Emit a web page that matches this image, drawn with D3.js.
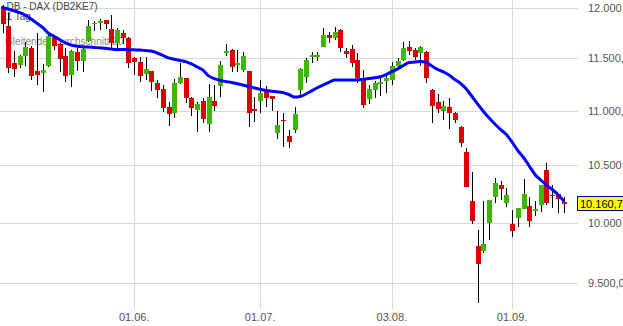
<!DOCTYPE html>
<html><head><meta charset="utf-8">
<script src="https://cdn.jsdelivr.net/npm/d3@7/dist/d3.min.js"></script>
<style>html,body{margin:0;padding:0;background:#fff;overflow:hidden}svg{display:block}</style>
</head><body><svg id="c" width="623" height="326"></svg>
<script>
const dates = ["28.04.","29.04.","30.04.","04.05.","05.05.","06.05.","07.05.","08.05.","11.05.","12.05.","13.05.","14.05.","15.05.","18.05.","19.05.","20.05.","21.05.","22.05.","25.05.","26.05.","27.05.","28.05.","29.05.",
"01.06.","02.06.","03.06.","04.06.","05.06.","08.06.","09.06.","10.06.","11.06.","12.06.","15.06.","16.06.","17.06.","18.06.","19.06.","22.06.","23.06.","24.06.","25.06.","26.06.","29.06.","30.06.",
"01.07.","02.07.","03.07.","06.07.","07.07.","08.07.","09.07.","10.07.","13.07.","14.07.","15.07.","16.07.","17.07.","20.07.","21.07.","22.07.","23.07.","24.07.","27.07.","28.07.","29.07.","30.07.","31.07.",
"03.08.","04.08.","05.08.","06.08.","07.08.","10.08.","11.08.","12.08.","13.08.","14.08.","17.08.","18.08.","19.08.","20.08.","21.08.","24.08.","25.08.","26.08.","27.08.","28.08.","31.08.",
"01.09.","02.09.","03.09.","04.09.","07.09.","08.09.","09.09.","10.09.","11.09.","14.09."];
const open = [12015,11820,11454,11435,11523,11601,11377,11357,11425,11710,
11641,11523,11338,11562,11474,11670,11840,11850,11880,11790,
11650,11750,11700,11506,11467,11348,11377,11264,11204,11031,
10981,11261,11309,11119,11006,11090,10879,11090,11236,11555,
11581,11438,11386,11377,11015,11093,11178,11135,10796,10916,
10766,10821,11195,11322,11516,11516,11614,11730,11697,11780,
11571,11591,11483,11314,11109,11195,11255,11280,11290,11425,
11483,11608,11581,11555,11559,11195,11081,10997,11034,10975,
10846,10618,10188,9806,9764,10002,10225,10327,10173,9991,
10044,10121,10144,10104,10153,10459,10242,10246,10181];
const high = [12032,11951,11571,11532,11660,11621,11750,11445,11730,11720,
11650,11601,11581,11601,11611,11880,11870,11890,11885,11931,
11800,11780,11710,11510,11513,11513,11380,11290,11242,11084,
11296,11457,11312,11128,11084,11116,11252,11242,11477,11641,
11588,11581,11565,11380,11125,11290,11233,11140,10999,10978,
10821,11031,11409,11506,11559,11565,11797,11763,11813,11785,
11598,11631,11555,11386,11242,11283,11306,11331,11467,11500,
11657,11670,11598,11624,11574,11204,11157,11093,11116,10990,
10858,10654,10439,9940,10188,10200,10391,10358,10301,10110,
10130,10378,10222,10185,10330,10522,10327,10250,10225];
const low = [11750,11357,11319,11406,11425,11290,11242,11176,11416,11581,
11367,11271,11223,11377,11367,11660,11770,11780,11790,11601,
11591,11641,11406,11338,11271,11290,11188,11119,10990,10858,
10934,11252,11069,10953,10805,10883,10805,10999,11131,11523,
11370,11370,11370,10851,10897,10981,11037,10999,10735,10663,
10654,10796,11147,11258,11451,11477,11610,11647,11680,11565,
11500,11418,11258,11025,11062,11116,11141,11169,11242,11409,
11477,11532,11483,11425,11264,10888,10975,10913,10828,10883,
10668,10307,9991,9340,9745,9856,10170,10196,10136,9884,
9961,10118,9961,10056,10095,10153,10127,10082,10082];
const close = [11837,11406,11396,11523,11611,11328,11338,11386,11720,11621,
11493,11328,11571,11474,11591,11820,11853,11870,11840,11650,
11780,11700,11454,11467,11331,11396,11274,11195,11028,10972,
11261,11319,11116,11028,11062,10922,11128,11044,11435,11571,
11418,11451,11523,10981,11006,11166,11122,11109,10867,10908,
10711,10969,11396,11483,11535,11535,11730,11697,11760,11604,
11545,11457,11306,11053,11205,11264,11274,11312,11425,11474,
11598,11574,11516,11608,11312,11046,11012,11044,10981,10913,
10699,10312,10019,9655,9822,10196,10347,10292,10240,9934,
10127,10248,10019,10119,10327,10173,10235,10201,10160.75];
const ma20 = [12009,11992,11973,11955,11929,11890,11848,11805,11748,11718,
11683,11653,11629,11619,11613,11611,11607,11603,11599,11591,
11585,11586,11585,11583,11581,11576,11571,11552,11529,11505,
11491,11480,11468,11445,11416,11386,11330,11303,11287,11276,
11267,11254,11242,11228,11214,11201,11190,11183,11178,11170,
11152,11128,11133,11157,11187,11216,11242,11268,11290,11290,
11290,11290,11290,11298,11304,11312,11321,11343,11370,11398,
11430,11459,11464,11469,11459,11425,11391,11369,11338,11295,
11257,11204,11133,11062,10992,10932,10876,10825,10779,10711,
10634,10571,10495,10420,10371,10327,10288,10244,10189];
const yTicks = [9500,10000,10500,11000,11500,12000];
const yTickLabels = ["9.500,00","10.000,00","10.500,00","11.000,00","11.500,00","12.000,00"];
const xTicks = ["01.06.","01.07.","03.08.","01.09."];
const titleLines = ["DB - DAX (DB2KE7)","1 Tag"];
const maLabel = "Gleitender Durchschnitt 20";
const lastLabel = "10.160,75";

const W = 623, H = 326;
const svg = d3.select("#c");
const x = d3.scalePoint().domain(dates).range([2.5, 563.6]).padding(0);
const y = d3.scaleLog().domain([9500, 12000]).range([283.3, 8.2]);
const font = "'Liberation Sans', Arial, sans-serif";

svg.append("rect").attr("width", W).attr("height", H).attr("fill", "#fff");

// gridlines
const grid = svg.append("g").attr("shape-rendering", "crispEdges");
grid.selectAll("line.h").data(yTicks).join("line")
  .attr("x1", 0).attr("x2", 578)
  .attr("y1", d => Math.round(y(d)) + 0.5).attr("y2", d => Math.round(y(d)) + 0.5)
  .attr("stroke", "#d8d8d8").attr("stroke-width", 1);
grid.selectAll("line.v").data(xTicks).join("line")
  .attr("y1", 0).attr("y2", 309)
  .attr("x1", d => Math.round(x(d)) + 0.5).attr("x2", d => Math.round(x(d)) + 0.5)
  .attr("stroke", "#d8d8d8").attr("stroke-width", 1);

// axis labels
svg.selectAll("text.yl").data(yTicks).join("text")
  .attr("x", 588).attr("y", d => y(d)).attr("dy", "0.35em")
  .attr("font-family", font).attr("font-size", 11).attr("fill", "#555")
  .text((d, i) => yTickLabels[i]);
svg.selectAll("text.xl").data(xTicks).join("text")
  .attr("x", d => x(d)).attr("y", 321).attr("text-anchor", "middle")
  .attr("font-family", font).attr("font-size", 11).attr("fill", "#555")
  .text(d => d);

// legend texts (behind marks)
svg.selectAll("text.tl").data(titleLines).join("text")
  .attr("x", 6.5).attr("y", (d, i) => 10 + i * 9.5)
  .attr("font-family", font).attr("font-size", 10).attr("fill", "#444")
  .text(d => d);
svg.append("text").attr("x", 5).attr("y", 44.5)
  .attr("font-family", font).attr("font-size", 10).attr("fill", "#8a8a8a")
  .text(maLabel);

// candles
const idx = d3.range(dates.length);
const cg = svg.append("g").attr("shape-rendering", "crispEdges");
cg.selectAll("line.w").data(idx).join("line")
  .attr("x1", i => Math.round(x(dates[i])) + 0.5).attr("x2", i => Math.round(x(dates[i])) + 0.5)
  .attr("y1", i => y(high[i])).attr("y2", i => y(low[i]))
  .attr("stroke", "#000").attr("stroke-width", 1);
const bw = 5;
cg.selectAll("rect.b").data(idx).join("rect")
  .attr("x", i => Math.round(x(dates[i])) + 0.5 - bw / 2)
  .attr("width", bw)
  .attr("y", i => y(Math.max(open[i], close[i])))
  .attr("height", i => Math.max(1.5, y(Math.min(open[i], close[i])) - y(Math.max(open[i], close[i]))))
  .attr("fill", i => close[i] >= open[i] ? "#3cb800" : "#dd0000");

// moving average
const line = d3.line().x(i => x(dates[i])).y(i => y(ma20[i])).curve(d3.curveMonotoneX);
svg.append("path").datum(idx).attr("d", line)
  .attr("fill", "none").attr("stroke", "#0000ff").attr("stroke-width", 3)
  .attr("stroke-linejoin", "round").attr("stroke-linecap", "round");

// last price label
const ly = y(close[close.length - 1]);
svg.append("rect").attr("x", 577.5).attr("y", Math.round(ly) - 7.5).attr("width", 60).attr("height", 14)
  .attr("fill", "#ffff00").attr("stroke", "#0000aa").attr("stroke-width", 1);
svg.append("text").attr("x", 580).attr("y", ly).attr("dy", "0.36em")
  .attr("font-family", font).attr("font-size", 11).attr("fill", "#000")
  .text(lastLabel);
</script></body></html>
